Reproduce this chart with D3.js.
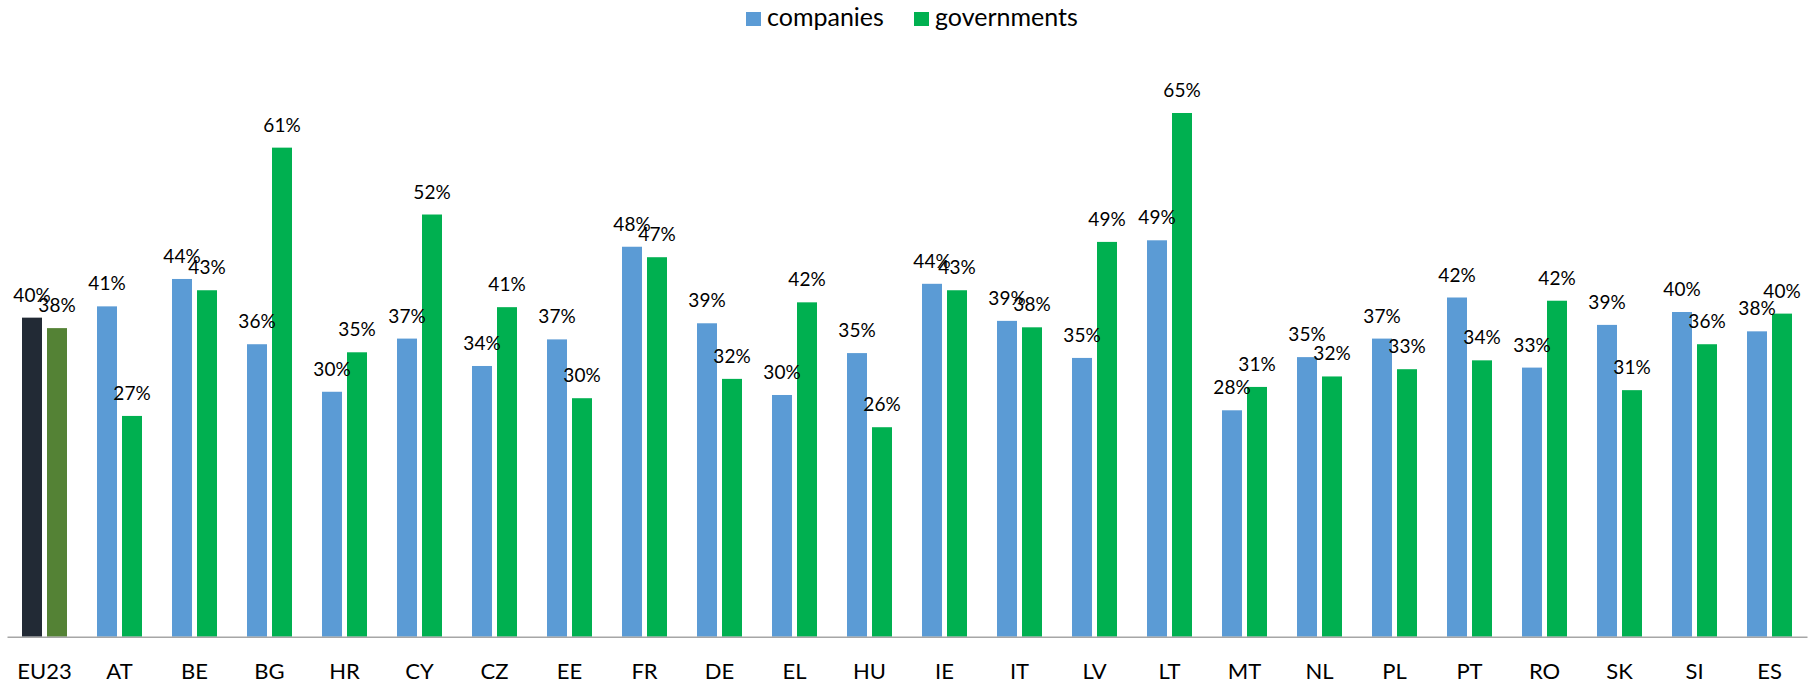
<!DOCTYPE html>
<meta charset="utf-8">
<style>
  body { margin: 0; background: #fff; }
  text { font-family: Lato, "Open Sans", sans-serif; fill: #000; }
</style>
<script src="https://cdn.jsdelivr.net/npm/d3@7"></script>
<body>
</body>
<script>

// values (labels are the rounded values)
var countries = ["EU23","AT","BE","BG","HR","CY","CZ","EE","FR","DE","EL","HU",
                 "IE","IT","LV","LT","MT","NL","PL","PT","RO","SK","SI","ES"];
var companies   = [39.6,41.0,44.4,36.3,30.4,37.0,33.6,36.9,48.4,38.9,30.0,35.2,
                   43.8,39.2,34.6,49.2,28.1,34.7,37.0,42.1,33.4,38.7,40.3,37.9];
var governments = [38.3,27.4,43.0,60.7,35.3,52.4,40.9,29.6,47.1,32.0,41.5,26.0,
                   43.0,38.4,49.0,65.0,31.0,32.3,33.2,34.3,41.7,30.6,36.3,40.1];
var seriesNames = ["companies","governments"];

const width = 1810, height = 684;
const baseY = 636.7;

var colors = { companies: "#5B9BD5", governments: "#00B050" };
var euColors = { companies: "#222A35", governments: "#548235" };

var data = countries.map((c,i) => ({
  country: c,
  values: [
    { key: "companies",   value: companies[i] },
    { key: "governments", value: governments[i] }
  ]
}));

var xScale = d3.scaleBand().domain(countries).range([7, 1807]).paddingInner(0).paddingOuter(0);
var xInner = d3.scaleBand().domain(seriesNames).range([0, xScale.bandwidth()])
  .paddingInner(0.2).paddingOuter(0.6);
var yScale = d3.scaleLinear().domain([0, 70]).range([baseY, baseY - 70*8.057]);

var svg = d3.select("body").append("svg")
  .attr("width", width)
  .attr("height", height);

// bars
var groups = svg.selectAll(".group")
  .data(data)
  .enter()
  .append("g")
    .classed("group", true)
    .attr("transform", d => `translate(${xScale(d.country)},0)`);

groups.selectAll("rect")
  .data(d => d.values.map(v => Object.assign({country: d.country}, v)))
  .enter()
  .append("rect")
    .attr("x", d => xInner(d.key))
    .attr("y", d => yScale(d.value))
    .attr("width", xInner.bandwidth())
    .attr("height", d => baseY - yScale(d.value))
    .attr("fill", d => d.country == "EU23" ? euColors[d.key] : colors[d.key]);

groups.selectAll(".lbl")
  .data(d => d.values)
  .enter()
  .append("text")
    .classed("lbl", true)
    .attr("x", d => xInner(d.key) + xInner.bandwidth()/2)
    .attr("y", d => yScale(d.value) - 16)
    .attr("text-anchor", "middle")
    .style("font-size", "19px")
    .text(d => Math.round(d.value) + "%");

// x axis
var xAxis = d3.axisBottom(xScale).tickSize(0).tickPadding(27);
var gx = svg.append("g")
  .attr("transform", `translate(0,${baseY})`)
  .call(xAxis);
gx.select(".domain").attr("stroke", "#A6A6A6").attr("stroke-width", 1.5);
gx.selectAll("text")
  .style("font-size", "22px")
  .style("font-family", "Lato, sans-serif")
  .attr("fill", "#000");

// legend
var legendX = [746, 914];
var legend = svg.selectAll(".legend")
  .data(seriesNames)
  .enter()
  .append("g")
    .classed("legend", true)
    .attr("transform", (d,i) => `translate(${legendX[i]},12)`);

legend.append("rect")
  .attr("width", 15)
  .attr("height", 14)
  .attr("fill", d => colors[d]);

legend.append("text")
  .attr("x", 21)
  .attr("y", 14)
  .style("font-size", "25px")
  .text(d => d);

</script>
